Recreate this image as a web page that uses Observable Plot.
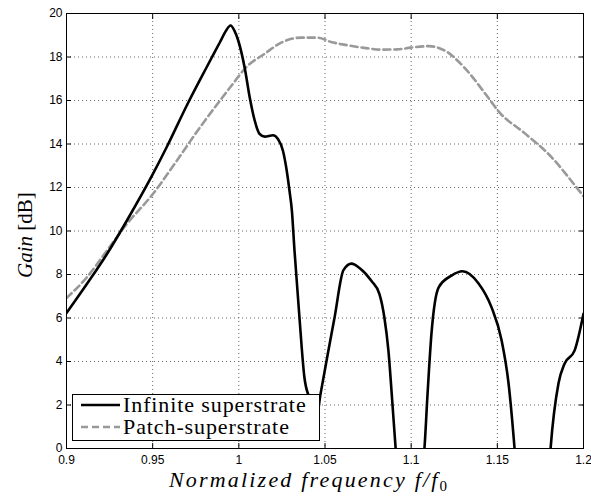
<!DOCTYPE html>
<html>
<head>
<meta charset="utf-8">
<script src="https://cdn.jsdelivr.net/npm/d3@7"></script>
<script src="https://cdn.jsdelivr.net/npm/@observablehq/plot@0.6"></script>
<style>
  html, body { margin: 0; padding: 0; background: #fff; }
</style>
</head>
<body>
<div id="chart"></div>
<script>
// ---- data ----
const infiniteFreq = [0.9, 0.9116, 0.9233, 0.9349, 0.95, 0.9581, 0.9698, 0.9814, 0.9891, 0.9925, 0.9952, 0.9975, 0.9996, 1.0035, 1.0063, 1.0092, 1.0121, 1.015, 1.0198, 1.0227, 1.0256, 1.0275, 1.0294, 1.0308, 1.0323, 1.0352, 1.038, 1.041, 1.045, 1.0474, 1.0515, 1.0555, 1.0607, 1.0654, 1.070, 1.077, 1.0816, 1.0845, 1.0868, 1.089, 1.091, 1.092, 1.1065, 1.1077, 1.1095, 1.1118, 1.1159, 1.1234, 1.1298, 1.139, 1.1466, 1.1524, 1.1565, 1.16, 1.161, 1.18, 1.1809, 1.1855, 1.189, 1.1948, 1.2];
const infiniteGain = [6.23, 7.54, 8.92, 10.46, 12.6, 13.85, 15.77, 17.54, 18.69, 19.2, 19.45, 19.2, 18.77, 17.46, 16.15, 15.08, 14.46, 14.34, 14.4, 14.23, 13.69, 12.92, 11.85, 10.92, 9.1, 6.0, 3.3, 2.3, 1.4, 2.5, 4.3, 6.0, 8.2, 8.5, 8.3, 7.7, 7.1, 6.0, 4.5, 2.2, 0, -1, -1, 0, 2.5, 5.3, 7.4, 7.95, 8.15, 7.6, 6.5, 5.0, 3.0, 0, -1, -1, 0, 3.0, 3.9, 4.5, 6.2];

const patchFreq = [0.9, 0.9116, 0.9233, 0.9349, 0.95, 0.964, 0.9775, 0.9891, 0.9958, 1.0044, 1.015, 1.0246, 1.0362, 1.0458, 1.0535, 1.0631, 1.0727, 1.0823, 1.0919, 1.0996, 1.1102, 1.1205, 1.131, 1.145, 1.1507, 1.1658, 1.1814, 1.193, 1.2];
const patchGain = [6.92, 7.85, 9.08, 10.31, 11.69, 13.23, 14.77, 16.0, 16.69, 17.54, 18.15, 18.66, 18.89, 18.89, 18.69, 18.54, 18.42, 18.34, 18.35, 18.43, 18.5, 18.25, 17.5, 16.1, 15.5, 14.5, 13.4, 12.3, 11.6];

const xTicks = [0.9, 0.95, 1.0, 1.05, 1.1, 1.15, 1.2];
const xTickLabels = ["0.9", "0.95", "1", "1.05", "1.1", "1.15", "1.2"];
const yTicks = [0, 2, 4, 6, 8, 10, 12, 14, 16, 18, 20];

const seriesNames = ["Infinite superstrate", "Patch-superstrate"];

// ---- tables ----
const infinite = infiniteFreq.map((f, i) => ({f, g: infiniteGain[i]}));
const patch = patchFreq.map((f, i) => ({f, g: patchGain[i]}));

const W = 591, H = 500;
const mL = 66, mR = 8, mT = 13, mB = 52;

const plot = Plot.plot({
  width: W,
  height: H,
  marginLeft: mL,
  marginRight: mR,
  marginTop: mT,
  marginBottom: mB,
  style: {fontFamily: "'Liberation Sans', Arial, sans-serif", fontSize: "12px", background: "#fff", color: "#000"},
  x: {domain: [0.9, 1.2], ticks: xTicks},
  y: {domain: [0, 20], ticks: yTicks},
  marks: [
    Plot.gridX(xTicks.slice(1, -1), {stroke: "#666", strokeOpacity: 1, strokeDasharray: "1,3", strokeWidth: 1}),
    Plot.gridY(yTicks.slice(1, -1), {stroke: "#666", strokeOpacity: 1, strokeDasharray: "1,3", strokeWidth: 1}),
    Plot.line(patch, {x: "f", y: "g", stroke: "#999", strokeWidth: 2.6, strokeDasharray: "7,4", curve: "monotone-x", clip: true}),
    Plot.line(infinite, {x: "f", y: "g", stroke: "#000", strokeWidth: 2.6, curve: "monotone-x", clip: true}),
    Plot.axisX(xTicks, {anchor: "bottom", tickSize: -5, tickPadding: 12, label: null,
      tickFormat: (d) => xTickLabels[xTicks.indexOf(d)]}),
    Plot.axisX(xTicks, {anchor: "top", tickSize: -5, label: null, tickFormat: () => ""}),
    Plot.axisY(yTicks, {anchor: "left", tickSize: -5, tickPadding: 9, label: null}),
    Plot.axisY(yTicks, {anchor: "right", tickSize: -5, label: null, tickFormat: () => ""}),
    Plot.frame({stroke: "#000", strokeWidth: 1})
  ]
});

document.getElementById("chart").appendChild(plot);

// ---- labels & legend ----
const svg = d3.select(plot);
const serif = "'Liberation Serif', 'Times New Roman', serif";

// x label
const xl = svg.append("text")
  .attr("x", 308).attr("y", 487)
  .attr("text-anchor", "middle")
  .attr("font-family", serif).attr("font-size", 22).attr("fill", "#000");
xl.append("tspan").attr("font-style", "italic").attr("letter-spacing", 2.2).text("Normalized frequency f/f");
xl.append("tspan").attr("font-size", 15).attr("dy", 4).text("0");

// y label
const yl = svg.append("text")
  .attr("transform", "translate(32,235) rotate(-90)")
  .attr("text-anchor", "middle")
  .attr("font-family", serif).attr("font-size", 21).attr("fill", "#000");
yl.append("tspan").attr("font-style", "italic").text("Gain");
yl.append("tspan").text(" [dB]");

// legend
const lg = svg.append("g");
lg.append("rect").attr("x", 72.5).attr("y", 394.5).attr("width", 247).attr("height", 46)
  .attr("fill", "#fff").attr("stroke", "#000").attr("stroke-width", 1);
const rows = [
  {name: seriesNames[0], stroke: "#000", dash: "none", y: 405},
  {name: seriesNames[1], stroke: "#999", dash: "7,4", y: 427}
];
rows.forEach(r => {
  lg.append("line").attr("x1", 81).attr("x2", 120).attr("y1", r.y).attr("y2", r.y)
    .attr("stroke", r.stroke).attr("stroke-width", 2.6).attr("stroke-dasharray", r.dash);
  lg.append("text").attr("x", 123).attr("y", r.y + 7)
    .attr("text-anchor", "start")
    .attr("font-family", serif).attr("font-size", 22).attr("letter-spacing", 0.9).attr("fill", "#000")
    .text(r.name);
});
</script>
</body>
</html>
